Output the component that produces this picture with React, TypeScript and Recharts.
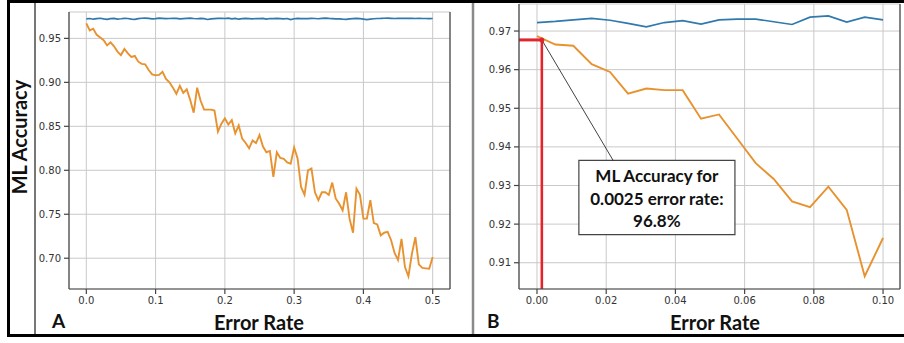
import React from 'react';
import {
  LineChart,
  Line,
  XAxis,
  YAxis,
  CartesianGrid,
  ReferenceLine,
  ReferenceDot,
  ReferenceArea,
} from 'recharts';

// ---------- Panel A data ----------
const errorRatesA = [
  0, 0.005, 0.01, 0.015, 0.02, 0.025, 0.03, 0.035, 0.04, 0.045,
  0.05, 0.055, 0.06, 0.065, 0.07, 0.075, 0.08, 0.085, 0.09, 0.095,
  0.1, 0.105, 0.11, 0.115, 0.12, 0.125, 0.13, 0.135, 0.14, 0.145,
  0.15, 0.155, 0.16, 0.165, 0.17, 0.175, 0.18, 0.185, 0.19, 0.195,
  0.2, 0.205, 0.21, 0.215, 0.22, 0.225, 0.23, 0.235, 0.24, 0.245,
  0.25, 0.255, 0.26, 0.265, 0.27, 0.275, 0.28, 0.285, 0.29, 0.295,
  0.3, 0.305, 0.31, 0.315, 0.32, 0.325, 0.33, 0.335, 0.34, 0.345,
  0.35, 0.355, 0.36, 0.365, 0.37, 0.375, 0.38, 0.385, 0.39, 0.395,
  0.4, 0.405, 0.41, 0.415, 0.42, 0.425, 0.43, 0.435, 0.44, 0.445,
  0.45, 0.455, 0.46, 0.465, 0.47, 0.475, 0.48, 0.485, 0.49, 0.495,
  0.5,
];

const baselineA = [
  0.9722, 0.9726, 0.9718, 0.9724, 0.9729, 0.9721, 0.9716, 0.9725, 0.9727, 0.9719,
  0.9723, 0.9728, 0.9726, 0.972, 0.9717, 0.9724, 0.9729, 0.9731, 0.9727, 0.9722,
  0.9725, 0.973, 0.9728, 0.9724, 0.9726, 0.9729, 0.9727, 0.9721, 0.9725, 0.9728,
  0.973, 0.9726, 0.9723, 0.9727, 0.9724, 0.9715, 0.9721, 0.9725, 0.9727, 0.9729,
  0.9726, 0.973, 0.9722, 0.9728, 0.9718, 0.9724, 0.9727, 0.9725, 0.9721, 0.9726,
  0.9724, 0.9728, 0.9719, 0.9726, 0.9724, 0.9727, 0.9725, 0.9722, 0.9726, 0.9714,
  0.9723, 0.9727, 0.9725, 0.9726, 0.9724, 0.9728, 0.9726, 0.9723, 0.9727, 0.9731,
  0.9727, 0.9725, 0.9722, 0.9721, 0.9718, 0.9716, 0.9722, 0.9725, 0.9727, 0.9724,
  0.972, 0.9714, 0.9719, 0.9723, 0.9726, 0.9727, 0.9729, 0.973, 0.9728, 0.9726,
  0.9728, 0.9727, 0.9727, 0.9728, 0.9727, 0.9726, 0.9727, 0.9726, 0.9726, 0.9725,
  0.9726,
];

const withErrorsA = [
  0.967, 0.959, 0.961, 0.954, 0.951, 0.948, 0.942, 0.9455, 0.941, 0.935,
  0.931, 0.938, 0.933, 0.929, 0.93, 0.9235, 0.921, 0.9205, 0.914, 0.909,
  0.908, 0.9085, 0.912, 0.904, 0.9, 0.894, 0.887, 0.896, 0.888, 0.892,
  0.88, 0.8655, 0.894, 0.879, 0.869, 0.869, 0.869, 0.868, 0.844, 0.853,
  0.859, 0.852, 0.857, 0.842, 0.851, 0.836, 0.831, 0.825, 0.834, 0.831,
  0.84, 0.827, 0.8205, 0.822, 0.7925, 0.8205, 0.814, 0.813, 0.809, 0.8075,
  0.826, 0.8135, 0.781, 0.772, 0.8, 0.802, 0.775, 0.766, 0.775, 0.775,
  0.772, 0.786, 0.768, 0.762, 0.7545, 0.775, 0.745, 0.729, 0.779, 0.772,
  0.745, 0.745, 0.766, 0.74, 0.7385, 0.726, 0.729, 0.73, 0.7205, 0.706,
  0.698, 0.722, 0.69, 0.6795, 0.705, 0.724, 0.693, 0.689, 0.6885, 0.688,
  0.7015,
];

// ---------- Panel B data ----------
const errorRatesB = [
  0, 0.0053, 0.0105, 0.0158, 0.0211, 0.0263, 0.0316, 0.0368, 0.0421, 0.0474,
  0.0526, 0.0579, 0.0632, 0.0684, 0.0737, 0.0789, 0.0842, 0.0895, 0.0947, 0.1,
];

const baselineB = [
  0.9722, 0.9725, 0.9729, 0.9733, 0.9728, 0.972, 0.9711, 0.9722, 0.9727, 0.9718,
  0.9729, 0.9731, 0.9731, 0.9724, 0.9717, 0.9736, 0.9739, 0.9723, 0.9736, 0.9729,
];

const withErrorsB = [
  0.9687, 0.9665, 0.9662, 0.9614, 0.9594, 0.9538, 0.9551, 0.9547, 0.9547, 0.9473,
  0.9484, 0.9421, 0.9358, 0.9317, 0.9259, 0.9244, 0.9297, 0.9237, 0.9065, 0.9164,
];

// ---------- ticks / labels ----------
const ticksAX = [0, 0.1, 0.2, 0.3, 0.4, 0.5];
const ticksAY = [0.7, 0.75, 0.8, 0.85, 0.9, 0.95];
const ticksBX = [0, 0.02, 0.04, 0.06, 0.08, 0.1];
const ticksBY = [0.91, 0.92, 0.93, 0.94, 0.95, 0.96, 0.97];

const domainAX: [number, number] = [-0.025, 0.525];
const domainAY: [number, number] = [0.665, 0.98];
const domainBX: [number, number] = [-0.0052, 0.1049];
const domainBY: [number, number] = [0.9032, 0.977];

const markRate = 0.0014;
const markAccuracy = 0.9677;
const boxX: [number, number] = [0.0121, 0.0572];
const boxY: [number, number] = [0.91727, 0.9365];
const leaderEnd = { x: 0.022, y: 0.9365 };
const annotationLines = ['ML Accuracy for', '0.0025 error rate:', '96.8%'];

const xLabel = 'Error Rate';
const yLabel = 'ML Accuracy';

const dataA = errorRatesA.map((x, i) => ({ x, base: baselineA[i], err: withErrorsA[i] }));
const dataB = errorRatesB.map((x, i) => ({ x, base: baselineB[i], err: withErrorsB[i] }));

const BLUE = '#3079ad';
const ORANGE = '#e8922f';
const RED = '#e2252d';
const SPINE = '#444';
const GRID = '#c9c9c9';
const tickStyle = { fontSize: 10, fill: '#333', fontFamily: 'DejaVu Sans' };
const boldFont = 'Lato, "Open Sans", sans-serif';

const AnnotationLabel = (props: any) => {
  const vb = props.viewBox || {};
  const cx = vb.x + vb.width / 2;
  const top = vb.y;
  return (
    <text
      x={cx}
      y={top}
      textAnchor="middle"
      fontFamily={boldFont}
      fontWeight={700}
      fontSize={17}
      fill="#111"
    >
      {annotationLines.map((t, i) => (
        <tspan key={i} x={cx} y={top + 22 + i * 22.5}>
          {t}
        </tspan>
      ))}
    </text>
  );
};

export default function App() {
  return (
    <div
      style={{
        position: 'absolute',
        left: 0,
        top: 0,
        width: 904,
        height: 343,
        background: '#fff',
        overflow: 'hidden',
      }}
    >
      <div style={{ position: 'absolute', left: 0, top: 0 }}>
        <LineChart width={470} height={343} data={dataA} margin={{ top: 12, right: 20, bottom: 24, left: 29 }}>
          <CartesianGrid stroke={GRID} strokeWidth={1} />
          <XAxis
            type="number"
            dataKey="x"
            domain={domainAX}
            ticks={ticksAX}
            allowDataOverflow
            tickFormatter={(v: number) => v.toFixed(1)}
            stroke={SPINE}
            strokeWidth={1.2}
            tickSize={5}
            tickMargin={3}
            height={30}
            tick={tickStyle}
          />
          <YAxis
            type="number"
            domain={domainAY}
            ticks={ticksAY}
            allowDataOverflow
            tickFormatter={(v: number) => v.toFixed(2)}
            stroke={SPINE}
            strokeWidth={1.2}
            tickSize={5}
            tickMargin={3}
            width={40}
            tick={tickStyle}
          />
          <ReferenceLine x={domainAX[1]} stroke={SPINE} strokeWidth={1.2} />
          <Line type="linear" dataKey="base" stroke={BLUE} strokeWidth={1.7} dot={false} isAnimationActive={false} />
          <Line type="linear" dataKey="err" stroke={ORANGE} strokeWidth={1.9} dot={false} isAnimationActive={false} />
        </LineChart>
      </div>

      <div style={{ position: 'absolute', left: 470, top: 0 }}>
        <LineChart width={434} height={343} data={dataB} margin={{ top: 4, right: 4, bottom: 24, left: 9 }}>
          <CartesianGrid stroke={GRID} strokeWidth={1} />
          <XAxis
            type="number"
            dataKey="x"
            domain={domainBX}
            ticks={ticksBX}
            allowDataOverflow
            tickFormatter={(v: number) => v.toFixed(2)}
            stroke={SPINE}
            strokeWidth={1.2}
            tickSize={5}
            tickMargin={3}
            height={30}
            tick={tickStyle}
          />
          <YAxis
            type="number"
            domain={domainBY}
            ticks={ticksBY}
            allowDataOverflow
            tickFormatter={(v: number) => v.toFixed(2)}
            stroke={SPINE}
            strokeWidth={1.2}
            tickSize={5}
            tickMargin={3}
            width={40}
            tick={tickStyle}
          />
          <ReferenceLine x={domainBX[1]} stroke={SPINE} strokeWidth={1.2} />
          <Line type="linear" dataKey="base" stroke={BLUE} strokeWidth={1.7} dot={false} isAnimationActive={false} />
          <Line type="linear" dataKey="err" stroke={ORANGE} strokeWidth={1.9} dot={false} isAnimationActive={false} />
          <ReferenceLine
            segment={[
              { x: domainBX[0], y: markAccuracy },
              { x: markRate, y: markAccuracy },
            ]}
            stroke={RED}
            strokeWidth={3}
            ifOverflow="visible"
          />
          <ReferenceLine
            segment={[
              { x: markRate, y: markAccuracy },
              { x: markRate, y: domainBY[0] },
            ]}
            stroke={RED}
            strokeWidth={2.6}
            ifOverflow="visible"
          />
          <ReferenceLine
            segment={[
              { x: markRate, y: markAccuracy },
              leaderEnd,
            ]}
            stroke="#111"
            strokeWidth={0.8}
            ifOverflow="visible"
          />
          <ReferenceDot x={markRate} y={markAccuracy} r={2.5} fill={RED} stroke="none" />
          <ReferenceArea
            x1={boxX[0]}
            x2={boxX[1]}
            y1={boxY[0]}
            y2={boxY[1]}
            fill="#fff"
            fillOpacity={1}
            stroke="#444"
            strokeWidth={1.2}
            ifOverflow="visible"
            label={<AnnotationLabel />}
          />
        </LineChart>
      </div>

      <svg
        width={904}
        height={343}
        style={{ position: 'absolute', left: 0, top: 0, pointerEvents: 'none' }}
      >
        <rect x={7} y={0} width={897} height={3} fill="#000" />
        <rect x={7} y={0} width={3} height={337} fill="#000" />
        <rect x={7} y={334} width={897} height={3} fill="#000" />
        <line x1={35} y1={3} x2={35} y2={334} stroke="#4a4a4a" strokeWidth={1.5} />
        <line x1={473} y1={3} x2={473} y2={334} stroke="#8a8a8a" strokeWidth={2.5} />
        <text
          x={27}
          y={137}
          transform="rotate(-90 27 137)"
          textAnchor="middle"
          fontFamily={boldFont}
          fontWeight={700}
          fontSize={20}
          fill="#111"
        >
          {yLabel}
        </text>
        <text x={259} y={330} textAnchor="middle" fontFamily={boldFont} fontWeight={700} fontSize={20} fill="#111">
          {xLabel}
        </text>
        <text x={715} y={330} textAnchor="middle" fontFamily={boldFont} fontWeight={700} fontSize={20} fill="#111">
          {xLabel}
        </text>
        <text x={52} y={328} fontFamily={boldFont} fontWeight={700} fontSize={19} fill="#111">
          A
        </text>
        <text x={487} y={328} fontFamily={boldFont} fontWeight={700} fontSize={19} fill="#111">
          B
        </text>
      </svg>
    </div>
  );
}
